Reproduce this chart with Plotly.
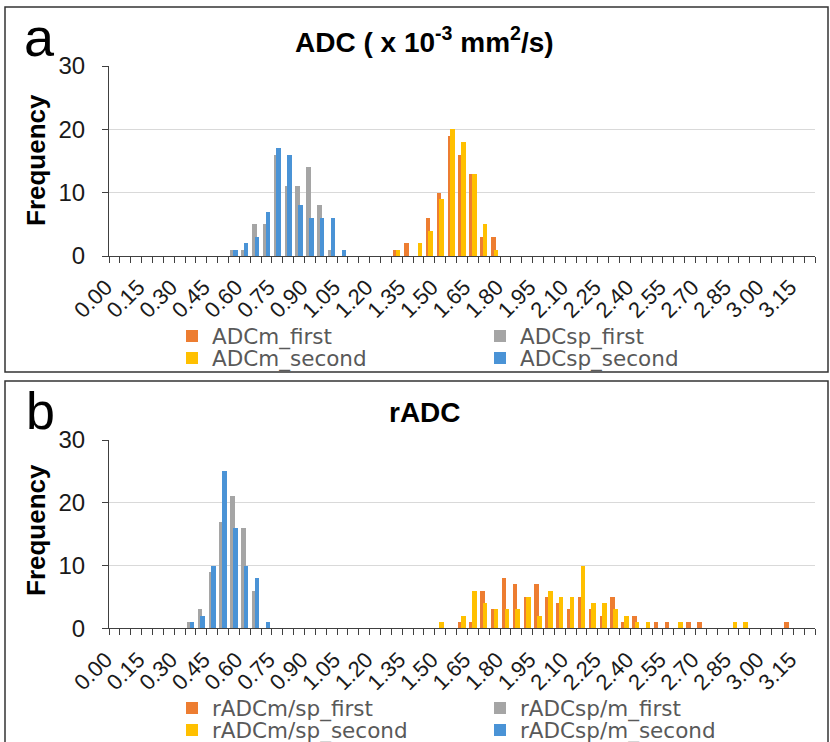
import plotly.graph_objects as go

# ---------------- data ----------------
# histogram bins (0.00 ... 3.20, step 0.05)
bins = [round(i * 0.05, 2) for i in range(65)]
tick_vals = bins[::3]
# trailing no-break spaces pull the rotated label end down/left of its bin centre
tick_text = [f"{b:.2f}\u00a0\u00a0" for b in tick_vals]
edges = [round(b - 0.025, 3) for b in bins] + [round(bins[-1] + 0.025, 3)]

# panel a : ADC (x10^-3 mm2/s) frequencies, one value per bin
adcm_first = [0, 0, 0, 0, 0, 0, 0, 0, 0, 0,
              0, 0, 0, 0, 0, 0, 0, 0, 0, 0,
              0, 0, 0, 0, 0, 0, 1, 2, 0, 6,
              10, 19, 16, 13, 3, 3, 0, 0, 0, 0,
              0, 0, 0, 0, 0, 0, 0, 0, 0, 0,
              0, 0, 0, 0, 0, 0, 0, 0, 0, 0,
              0, 0, 0, 0, 0]
adcsp_first = [0, 0, 0, 0, 0, 0, 0, 0, 0, 0,
               0, 1, 1, 5, 5, 16, 11, 11, 14, 8,
               1, 0, 0, 0, 0, 0, 0, 0, 0, 0,
               0, 0, 0, 0, 0, 0, 0, 0, 0, 0,
               0, 0, 0, 0, 0, 0, 0, 0, 0, 0,
               0, 0, 0, 0, 0, 0, 0, 0, 0, 0,
               0, 0, 0, 0, 0]
adcm_second = [0, 0, 0, 0, 0, 0, 0, 0, 0, 0,
               0, 0, 0, 0, 0, 0, 0, 0, 0, 0,
               0, 0, 0, 0, 0, 0, 1, 0, 2, 4,
               9, 20, 18, 13, 5, 1, 0, 0, 0, 0,
               0, 0, 0, 0, 0, 0, 0, 0, 0, 0,
               0, 0, 0, 0, 0, 0, 0, 0, 0, 0,
               0, 0, 0, 0, 0]
adcsp_second = [0, 0, 0, 0, 0, 0, 0, 0, 0, 0,
                0, 1, 2, 3, 7, 17, 16, 8, 6, 6,
                6, 1, 0, 0, 0, 0, 0, 0, 0, 0,
                0, 0, 0, 0, 0, 0, 0, 0, 0, 0,
                0, 0, 0, 0, 0, 0, 0, 0, 0, 0,
                0, 0, 0, 0, 0, 0, 0, 0, 0, 0,
                0, 0, 0, 0, 0]

# panel b : rADC frequencies
radc_msp_first = [0, 0, 0, 0, 0, 0, 0, 0, 0, 0,
                  0, 0, 0, 0, 0, 0, 0, 0, 0, 0,
                  0, 0, 0, 0, 0, 0, 0, 0, 0, 0,
                  0, 0, 1, 1, 6, 3, 8, 7, 5, 7,
                  5, 4, 3, 5, 3, 2, 5, 1, 2, 0,
                  1, 1, 0, 1, 1, 0, 0, 0, 0, 0,
                  0, 0, 1, 0, 0]
radc_spm_first = [0, 0, 0, 0, 0, 0, 0, 1, 3, 9,
                  17, 21, 16, 6, 0, 0, 0, 0, 0, 0,
                  0, 0, 0, 0, 0, 0, 0, 0, 0, 0,
                  0, 0, 0, 0, 0, 0, 0, 0, 0, 0,
                  0, 0, 0, 0, 0, 0, 0, 0, 0, 0,
                  0, 0, 0, 0, 0, 0, 0, 0, 0, 0,
                  0, 0, 0, 0, 0]
radc_msp_second = [0, 0, 0, 0, 0, 0, 0, 0, 0, 0,
                   0, 0, 0, 0, 0, 0, 0, 0, 0, 0,
                   0, 0, 0, 0, 0, 0, 0, 0, 0, 0,
                   1, 0, 2, 6, 4, 3, 3, 3, 5, 2,
                   6, 5, 5, 10, 4, 4, 3, 2, 1, 1,
                   0, 0, 1, 0, 0, 0, 0, 1, 1, 0,
                   0, 0, 0, 0, 0]
radc_spm_second = [0, 0, 0, 0, 0, 0, 0, 1, 2, 10,
                   25, 16, 10, 8, 1, 0, 0, 0, 0, 0,
                   0, 0, 0, 0, 0, 0, 0, 0, 0, 0,
                   0, 0, 0, 0, 0, 0, 0, 0, 0, 0,
                   0, 0, 0, 0, 0, 0, 0, 0, 0, 0,
                   0, 0, 0, 0, 0, 0, 0, 0, 0, 0,
                   0, 0, 0, 0, 0]

y_ticks = [0, 10, 20, 30]

# ---------------- styling ----------------
ORANGE, GREY, YELLOW, BLUE = "#ED7D31", "#A5A5A5", "#FFC000", "#4A93D6"
W, H = 830, 742
ML, MR = 109, 15
PW = W - ML - MR
STEP = 0.05
BAR_W = STEP * 0.42
OFF_FIRST = -STEP * 0.335
OFF_SECOND = -STEP * 0.085


def px_x(p):
    return (p - ML) / PW


def px_y(p):
    return 1 - p / H


def bar(y, name, color, offset, xa, ya, legend):
    return go.Bar(x=bins, y=y, name=name, width=BAR_W, offset=offset,
                  marker=dict(color=color, line=dict(width=0)),
                  xaxis=xa, yaxis=ya, legend=legend)


fig = go.Figure()
fig.add_trace(bar(adcm_first, "ADCm_first", ORANGE, OFF_FIRST, "x", "y", "legend"))
fig.add_trace(bar(adcsp_first, "ADCsp_first", GREY, OFF_FIRST, "x", "y", "legend"))
fig.add_trace(bar(adcm_second, "ADCm_second", YELLOW, OFF_SECOND, "x", "y", "legend2"))
fig.add_trace(bar(adcsp_second, "ADCsp_second", BLUE, OFF_SECOND, "x", "y", "legend2"))
fig.add_trace(bar(radc_msp_first, "rADCm/sp_first", ORANGE, OFF_FIRST, "x2", "y2", "legend3"))
fig.add_trace(bar(radc_spm_first, "rADCsp/m_first", GREY, OFF_FIRST, "x2", "y2", "legend3"))
fig.add_trace(bar(radc_msp_second, "rADCm/sp_second", YELLOW, OFF_SECOND, "x2", "y2", "legend4"))
fig.add_trace(bar(radc_spm_second, "rADCsp/m_second", BLUE, OFF_SECOND, "x2", "y2", "legend4"))

AX = "#404040"
TXT = "#1a1a1a"
xaxis = dict(range=[bins[0] - STEP / 2, bins[-1] + STEP / 2], tickmode="array",
             tickvals=tick_vals, ticktext=tick_text, tickangle=-45, ticks="",
             ticklabelstandoff=0,
             showline=True, linecolor=AX, linewidth=1.3, showgrid=False, zeroline=False,
             tickfont=dict(family="Liberation Sans", size=22, color=TXT),
             minor=dict(tickmode="array", tickvals=edges, ticks="outside", ticklen=6,
                        tickcolor=AX, tickwidth=1, showgrid=False),
             fixedrange=True)
yaxis = dict(range=[0, 30], tickmode="array", tickvals=y_ticks, showgrid=True,
             gridcolor="#D9D9D9", gridwidth=1, showline=True, linecolor=AX, linewidth=1,
             ticks="outside", ticklen=6, tickcolor=AX, zeroline=False,
             ticklabelstandoff=12,
             tickfont=dict(family="Liberation Sans", size=24, color=TXT),
             fixedrange=True)

leg_common = dict(orientation="h", xanchor="left", yanchor="middle",
                  font=dict(family="DejaVu Sans", size=21.5, color="#595959"),
                  bgcolor="rgba(0,0,0,0)", entrywidth=263, entrywidthmode="pixels",
                  traceorder="normal")

LEG_X = px_x(172)
fig.update_layout(
    width=W, height=H, autosize=False,
    margin=dict(l=ML, r=MR, t=0, b=0, autoexpand=False),
    paper_bgcolor="white", plot_bgcolor="white",
    barmode="overlay", bargap=0,
    xaxis=dict(xaxis, domain=[0, 1], anchor="y"),
    yaxis=dict(yaxis, domain=[px_y(256), px_y(66)], anchor="x"),
    xaxis2=dict(xaxis, domain=[0, 1], anchor="y2"),
    yaxis2=dict(yaxis, domain=[px_y(628.3), px_y(440)], anchor="x2"),
    legend=dict(leg_common, x=LEG_X, y=px_y(336)),
    legend2=dict(leg_common, x=LEG_X, y=px_y(358)),
    legend3=dict(leg_common, x=LEG_X, y=px_y(708)),
    legend4=dict(leg_common, x=LEG_X, y=px_y(730)),
    shapes=[
        dict(type="rect", xref="paper", yref="paper", x0=px_x(5), x1=px_x(828),
             y0=px_y(372), y1=px_y(7), line=dict(color="#333333", width=1.5),
             fillcolor="rgba(0,0,0,0)", layer="below"),
        dict(type="rect", xref="paper", yref="paper", x0=px_x(5), x1=px_x(828),
             y0=px_y(780), y1=px_y(381), line=dict(color="#333333", width=1.5),
             fillcolor="rgba(0,0,0,0)", layer="below"),
    ],
    annotations=[
        dict(text="a", x=px_x(39), y=px_y(37), xref="paper", yref="paper",
             showarrow=False, xanchor="center", yanchor="middle",
             font=dict(family="Liberation Sans", size=54, color="black")),
        dict(text="b", x=px_x(40), y=px_y(411), xref="paper", yref="paper",
             showarrow=False, xanchor="center", yanchor="middle",
             font=dict(family="Liberation Sans", size=52, color="black")),
        dict(text="<b>ADC ( x 10<sup>-3</sup> mm<sup>2</sup>/s)</b>", x=px_x(424), y=px_y(40),
             xref="paper", yref="paper", showarrow=False, xanchor="center", yanchor="middle",
             font=dict(family="Liberation Sans", size=28, color="black")),
        dict(text="<b>rADC</b>", x=px_x(425), y=px_y(412),
             xref="paper", yref="paper", showarrow=False, xanchor="center", yanchor="middle",
             font=dict(family="Liberation Sans", size=28, color="black")),
        dict(text="<b>Frequency</b>", x=px_x(36), y=px_y(160), xref="paper", yref="paper",
             showarrow=False, xanchor="center", yanchor="middle", textangle=-90,
             font=dict(family="Liberation Sans", size=26, color="black")),
        dict(text="<b>Frequency</b>", x=px_x(36), y=px_y(530), xref="paper", yref="paper",
             showarrow=False, xanchor="center", yanchor="middle", textangle=-90,
             font=dict(family="Liberation Sans", size=26, color="black")),
    ],
)

# the page body has a default 8px margin; remove it so the figure sits at the window origin
fig.write_html("out.html", config={"displayModeBar": False},
               post_script="document.body.style.margin='0px';")
